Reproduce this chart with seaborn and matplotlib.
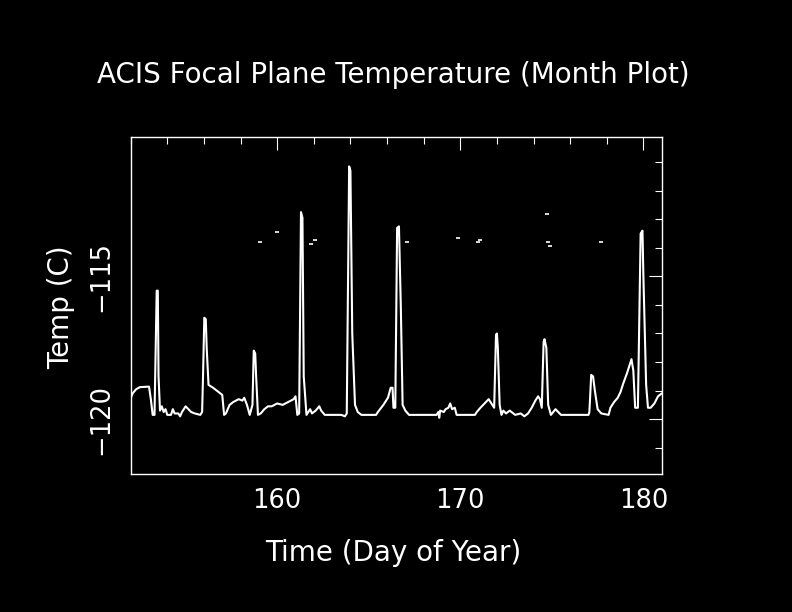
import matplotlib
matplotlib.use("Agg")
import matplotlib.pyplot as plt
import seaborn as sns
import pandas as pd
from matplotlib.ticker import MultipleLocator

# ---- data ----
day = [152.0, 152.1, 152.3, 152.5, 153.0, 153.1, 153.2, 153.3, 153.35, 153.42, 153.48, 153.52,
       153.6, 153.7, 153.8, 153.9, 154.0, 154.2, 154.3, 154.4, 154.6, 154.7, 154.8, 155.0,
       155.3, 155.5, 155.8, 155.9, 155.95, 156.02, 156.1, 156.15, 156.25, 156.5, 156.7, 156.9,
       157.0, 157.1, 157.2, 157.4, 157.6, 157.9, 158.1, 158.2, 158.35, 158.5, 158.65, 158.72,
       158.8, 158.85, 158.95, 159.1, 159.3, 159.5, 159.7, 160.0, 160.3, 160.6, 160.9, 161.0,
       161.1, 161.2, 161.3, 161.38, 161.45, 161.6, 161.8, 161.9, 162.1, 162.3, 162.4, 162.6,
       163.5, 163.7, 163.8, 163.93, 164.0, 164.1, 164.25, 164.4, 164.6, 165.4, 165.5, 165.8,
       166.05, 166.2, 166.3, 166.35, 166.45, 166.55, 166.65, 166.75, 166.85, 167.0, 167.2,
       168.7, 168.8, 168.85, 168.9, 169.1, 169.2, 169.35, 169.45, 169.55, 169.7, 169.8,
       170.8, 170.9, 171.1, 171.4, 171.55, 171.7, 171.85, 171.95, 172.0, 172.05, 172.15,
       172.25, 172.35, 172.5, 172.7, 172.8, 173.0, 173.3, 173.5, 173.7, 173.9, 174.1, 174.25,
       174.35, 174.45, 174.55, 174.6, 174.7, 174.8, 174.95, 175.2, 175.5, 177.0, 177.05,
       177.15, 177.25, 177.35, 177.5, 177.7, 178.1, 178.2, 178.4, 178.6, 178.75, 178.9,
       179.1, 179.35, 179.45, 179.55, 179.7, 179.85, 179.95, 180.0, 180.15, 180.25, 180.4,
       180.6, 180.8, 181.0]
temp = [-119.27, -119.1, -118.95, -118.88, -118.86, -119.3, -119.85, -119.85, -118.0, -115.5, -115.5, -118.5,
        -119.7, -119.55, -119.75, -119.65, -119.85, -119.85, -119.65, -119.8, -119.8, -119.9, -119.75, -119.55,
        -119.75, -119.8, -119.85, -119.75, -118.5, -116.45, -116.5, -117.5, -118.8, -118.9, -119.0, -119.1,
        -119.15, -119.85, -119.8, -119.5, -119.4, -119.3, -119.35, -119.25, -119.5, -119.85, -119.5, -117.6,
        -117.7, -118.5, -119.85, -119.8, -119.65, -119.55, -119.55, -119.45, -119.5, -119.4, -119.3, -119.2,
        -119.85, -119.8, -112.75, -112.95, -118.5, -119.85, -119.65, -119.8, -119.7, -119.55, -119.7, -119.85,
        -119.85, -119.9, -119.8, -111.15, -111.3, -117.0, -119.5, -119.75, -119.85, -119.85, -119.75, -119.5,
        -119.25, -118.9, -118.9, -119.6, -119.6, -113.3, -113.25, -116.0, -119.5, -119.7, -119.85,
        -119.85, -119.75, -119.95, -119.7, -119.75, -119.65, -119.6, -119.45, -119.65, -119.6, -119.85,
        -119.85, -119.75, -119.6, -119.4, -119.3, -119.45, -119.6, -117.05, -117.0, -117.5, -119.5,
        -119.85, -119.7, -119.8, -119.7, -119.75, -119.85, -119.8, -119.9, -119.8, -119.6, -119.35, -119.2,
        -119.3, -119.6, -117.3, -117.2, -117.5, -119.5, -119.85, -119.65, -119.85, -119.85, -119.75,
        -118.45, -118.5, -119.0, -119.65, -119.8, -119.85, -119.6, -119.4, -119.25, -119.05, -118.75,
        -118.4, -117.9, -118.3, -119.6, -119.6, -113.5, -113.4, -115.0, -118.8, -119.6, -119.6,
        -119.45, -119.2, -119.1]

# isolated stray points
stray_day = [159.06, 160.0, 161.87, 162.05, 167.08, 169.89, 170.98, 171.08, 174.74, 174.79, 174.9, 177.68]
stray_temp = [-113.81, -113.46, -113.85, -113.71, -113.78, -113.67, -113.78, -113.71, -112.83, -113.81, -113.92, -113.81]

xticks = [160, 170, 180]
yticks = [-120, -115]
ytick_labels = ["\u2212120", "\u2212115"]

title = "ACIS Focal Plane Temperature (Month Plot)"
xlabel = "Time (Day of Year)"
ylabel = "Temp (C)"

# ---- plot ----
sns.set_style("dark")
plt.rcParams["font.family"] = ["DejaVu Sans"]

fig = plt.figure(figsize=(7.92, 6.12), dpi=100, facecolor="black")
ax = fig.add_axes([130.7 / 792, 1 - 474 / 612, 531 / 792, 337 / 612])
ax.set_facecolor("black")

df = pd.DataFrame({"day": day, "temp": temp})
sns.lineplot(data=df, x="day", y="temp", sort=False, estimator=None,
             color="white", linewidth=1.5, ax=ax)
sdf = pd.DataFrame({"day": stray_day, "temp": stray_temp})
sns.scatterplot(data=sdf, x="day", y="temp", marker="_", s=6, linewidth=1.2,
                color="white", ax=ax)

ax.set_xlim(152.0, 181.0)
ax.set_ylim(-121.92, -110.12)
ax.grid(False)

for s in ax.spines.values():
    s.set_visible(True)
    s.set_color("white")
    s.set_linewidth(1.0)

ax.set_xticks(xticks)
ax.set_xticklabels([str(v) for v in xticks])
ax.xaxis.set_minor_locator(MultipleLocator(2))
ax.set_yticks(yticks)
ax.set_yticklabels(ytick_labels, rotation=90, va="center")
ax.yaxis.set_minor_locator(MultipleLocator(1))

ax.tick_params(which="both", direction="in", top=True, right=True,
               color="white", labelcolor="white", width=0.8)
ax.tick_params(which="major", length=9.5, labelsize=18.5)
ax.tick_params(which="minor", length=5)
ax.tick_params(axis="x", which="major", pad=10)
ax.tick_params(axis="y", which="major", pad=12)

ax.set_xlabel(xlabel, color="white", fontsize=20, va="center", ha="center")
ax.xaxis.set_label_coords(0.495, -0.234)
ax.set_ylabel(ylabel, color="white", fontsize=20, va="center", ha="center")
ax.yaxis.set_label_coords(-0.131, 0.495)

fig.text(393 / 792, 1 - 75 / 612, title, color="white", fontsize=20,
         ha="center", va="center")

fig.savefig("out.png", dpi=100, facecolor="black")
